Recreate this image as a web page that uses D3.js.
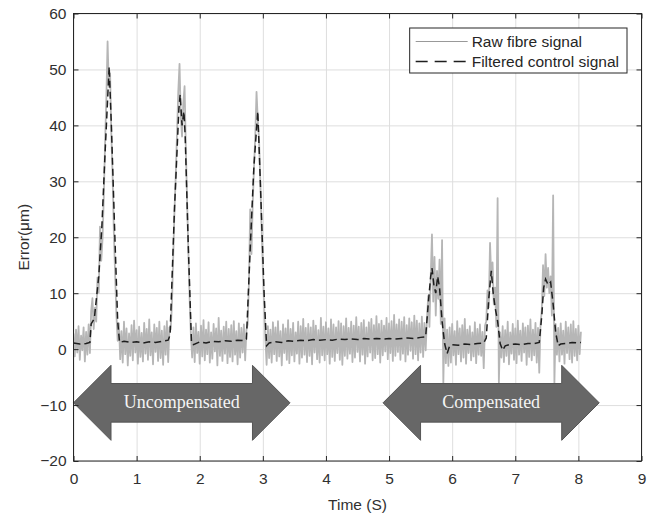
<!DOCTYPE html>
<html>
<head>
<meta charset="utf-8">
<script src="https://cdn.jsdelivr.net/npm/d3@7"></script>
<style>
  body { margin: 0; background: #fff; }
  text { font-family: "Liberation Sans", Arial, sans-serif; }
</style>
</head>
<body>
<svg id="chart" width="658" height="517"></svg>
<script>
// Raw fibre signal, sampled every 0.02 s from t = 0
const rawStep = 0.02;
const rawSignal = [
  // 0.00 - 0.26 s
  2.8, -1.3, 3.5, -0.6, 4.1, -1.9, 2.4, -0.2, 3.9, -2.2, 3.1, -1.0, 4.4, -0.7,
  // first uncompensated excursion, 0.28 - 0.70 s
  6.8, 9.1, 3.6, 7.4, 4.9, 12.8, 10.1, 21.9, 15.8, 19.7, 27.2, 36.8, 44.6, 55.0, 46.9, 49.3,
  38.2, 30.8, 20.6, 13.2, 6.1, 1.5,
  // 0.72 - 1.52 s
  4.6, -1.8, 3.2, -2.4, 4.9, -0.9, 3.7, -2.9, 2.8, -1.2, 4.3, -2.0, 5.1, -0.6, 3.4, -2.6,
  4.0, -1.4, 2.9, -2.2, 4.7, -0.8, 3.6, -1.9, 5.3, -1.1, 3.0, -2.7, 4.4, -0.5, 3.8, -2.1,
  4.9, -1.6, 3.3, -2.8, 4.1, -1.0, 5.0, -2.3, 3.9,
  // second excursion, 1.54 - 1.86 s
  3.5, 8.0, 16.5, 24.8, 31.0, 38.5, 46.0, 51.0, 41.5, 38.0, 44.0, 47.0, 36.0, 26.5, 17.5, 9.0, 2.5,
  // 1.88 - 2.74 s
  -1.5, 3.9, -2.3, 4.6, -0.7, 3.1, -2.6, 4.2, -1.3, 5.2, -2.0, 3.5, -0.9, 4.8, -2.4, 3.0,
  -1.7, 4.5, -0.4, 3.7, -2.9, 5.6, -1.2, 3.3, -2.1, 4.0, -0.8, 4.9, -2.5, 3.6, -1.4, 4.3,
  -2.2, 5.0, -1.0, 3.2, -2.7, 4.6, -1.5, 3.8, -0.6, 4.4, -2.0, 3.4,
  // third excursion, 2.76 - 3.04 s
  4.5, 12.0, 25.0, 17.0, 26.0, 32.5, 38.0, 46.0, 41.0, 37.5, 30.0, 22.0, 14.5, 8.0, 2.0,
  // 3.06 - 5.60 s
  -2.8, 4.1, -1.6, 3.5, -2.4, 4.8, -0.9, 3.9, -2.1, 5.0, -1.3, 3.2, -2.9, 4.4, -0.7, 3.7,
  -1.9, 5.2, -2.5, 3.6, -1.1, 4.7, -2.2, 3.0, -0.8, 4.9, -2.6, 4.1, -1.5, 5.4, -1.0, 3.8,
  -2.3, 4.5, -1.2, 3.9, -2.7, 5.1, -0.6, 4.2, -1.8, 3.4, -2.4, 5.6, -1.1, 4.0, -2.0, 4.8,
  -0.9, 3.7, -2.6, 5.3, -1.4, 4.4, -2.1, 3.9, -0.7, 5.0, -1.9, 4.6, -2.8, 4.1, -1.2, 5.5,
  -1.7, 3.8, -0.8, 4.9, -2.3, 4.2, -1.5, 5.7, -0.5, 4.0, -2.2, 4.7, -1.0, 5.2, -2.6, 3.9,
  -1.3, 4.8, -0.6, 5.4, -2.0, 4.3, -1.6, 5.9, -0.9, 4.5, -2.4, 5.1, -1.1, 4.2, -0.4, 5.6,
  -1.8, 4.6, -0.7, 5.0, -2.1, 6.1, -1.2, 4.4, -0.5, 5.3, -1.9, 4.9, -0.8, 5.7, -2.2, 4.3,
  -1.0, 5.5, -0.3, 4.8, -1.7, 6.0, -0.9, 5.1, -2.0, 4.6, -0.6, 5.8, -1.4, 4.7, -0.2, 5.2,
  // first compensated excursion, 5.62 - 5.94 s
  9.5, 4.0, 13.0, 20.5, 8.5, 16.5, 6.0, 14.0, 9.0, 16.0, 4.5, 19.5, -6.0, 5.5, -2.5, 3.5, -3.0,
  // 5.96 - 6.52 s
  3.9, -2.4, 4.5, -1.1, 3.2, -2.8, 5.0, -0.9, 3.7, -2.2, 4.3, -1.5, 5.4, -2.6, 3.5, -0.7,
  4.1, -2.0, 3.0, -1.3, 4.8, -2.5, 3.6, -1.0, 4.4, -1.2, 3.1, -3.4, 4.2,
  // second compensated excursion, 6.54 - 6.78 s
  5.0, 10.5, 7.5, 19.0, 12.5, 15.5, 8.0, 11.0, 4.0, 27.0, -6.0, 3.0, -1.5,
  // 6.80 - 7.40 s
  4.1, -2.3, 3.4, -1.2, 4.9, -2.7, 3.0, -0.8, 4.5, -1.9, 3.7, -2.5, 5.1, -1.0, 3.3, -2.1,
  4.6, -0.6, 3.9, -2.8, 4.2, -1.4, 5.3, -2.0, 3.5, -1.1, 4.7, -2.4, 3.8, -4.2, 4.4,
  // third compensated excursion, 7.42 - 7.66 s
  7.0, 15.0, 9.5, 17.0, 11.0, 14.5, 10.0, 13.0, 6.0, 27.5, -6.0, 4.5, -1.0,
  // 7.68 - 8.04 s
  3.8, -2.2, 4.6, -1.0, 3.3, -2.6, 4.9, -0.7, 3.9, -1.8, 4.4, -2.4, 5.0, -1.2, 3.6, -2.0,
  4.2, -0.9, 3.1
];

// Filtered control signal
const filteredTime = [
  0.00, 0.10, 0.20, 0.26, 0.28, 0.33, 0.40, 0.45, 0.50, 0.565, 0.60, 0.65, 0.70, 0.73,
  0.80, 0.90, 1.00, 1.10, 1.20, 1.30, 1.40, 1.50, 1.53, 1.60, 1.67, 1.69, 1.72, 1.75,
  1.77, 1.82, 1.87, 1.90, 2.00, 2.10, 2.20, 2.30, 2.40, 2.50, 2.60, 2.70, 2.74, 2.80,
  2.86, 2.92, 2.96, 3.02, 3.06, 3.10, 3.20, 3.30, 3.40, 3.50, 3.60, 3.70, 3.80, 3.90,
  4.00, 4.10, 4.20, 4.30, 4.40, 4.50, 4.60, 4.70, 4.80, 4.90, 5.00, 5.10, 5.20, 5.30,
  5.40, 5.50, 5.58, 5.62, 5.66, 5.68, 5.71, 5.74, 5.77, 5.80, 5.84, 5.88, 5.92, 5.96,
  6.00, 6.10, 6.20, 6.30, 6.40, 6.50, 6.54, 6.58, 6.62, 6.65, 6.68, 6.72, 6.76, 6.80,
  6.84, 6.90, 7.00, 7.10, 7.20, 7.30, 7.38, 7.42, 7.45, 7.48, 7.52, 7.56, 7.60, 7.64,
  7.68, 7.72, 7.80, 7.90, 8.00, 8.04
];
const filteredValue = [
  1.1, 0.9, 1.0, 1.2, 4.5, 5.5, 13.0, 22.0, 35.0, 50.5, 40.0, 22.0, 5.0, 1.2,
  1.4, 1.2, 1.3, 1.1, 1.3, 1.2, 1.4, 1.6, 2.5, 25.0, 43.0, 45.5, 40.0, 42.5,
  38.0, 18.0, 1.0, 0.8, 1.3, 1.1, 1.4, 1.3, 1.5, 1.4, 1.6, 1.5, 1.8, 18.0,
  33.0, 42.5, 30.0, 10.0, 0.6, 1.1, 1.3, 1.2, 1.5, 1.4, 1.6, 1.5, 1.7, 1.6,
  1.7, 1.6, 1.8, 1.7, 1.8, 1.7, 1.9, 1.8, 1.9, 1.8, 1.9, 1.8, 1.9, 2.0,
  1.9, 2.1, 2.2, 8.0, 13.0, 14.5, 11.5, 10.0, 13.0, 11.0, 5.0, 1.0, -0.8, 0.6,
  0.8, 0.7, 0.9, 0.8, 1.0, 1.1, 2.0, 9.0, 14.0, 10.0, 7.5, 5.0, 1.0, -0.2,
  0.6, 0.8, 0.9, 0.8, 1.0, 1.0, 1.2, 6.0, 11.0, 12.5, 11.5, 12.0, 8.0, 3.0,
  0.6, 0.9, 1.0, 1.2, 1.1, 1.2
];

const xTicks = [0, 1, 2, 3, 4, 5, 6, 7, 8, 9];
const yTicks = [-20, -10, 0, 10, 20, 30, 40, 50, 60];

// Annotation arrows: label, start and end time, level
const arrowLabels = ["Uncompensated", "Compensated"];
const arrowStart = [0, 4.905];
const arrowEnd = [3.43, 8.33];
const arrowLevel = -9.6;

const legendLabels = ["Raw fibre signal", "Filtered control signal"];

// ---- layout ----
const svg = d3.select("#chart");
const plotLeft = 73.5, plotRight = 641.5, plotTop = 13.5, plotBottom = 461;
const x = d3.scaleLinear().domain([0, 9]).range([plotLeft, plotRight]);
const y = d3.scaleLinear().domain([-20, 60]).range([plotBottom, plotTop]);
const axisColor = "#262626";
const fontSize = 15.5;

// grid
const grid = svg.append("g");
grid.append("g")
  .attr("transform", `translate(0,${plotBottom})`)
  .call(d3.axisBottom(x).tickValues(xTicks).tickSize(-(plotBottom - plotTop)).tickFormat(""))
  .call(g => g.select(".domain").remove())
  .call(g => g.selectAll("line").attr("stroke", "#dedede").attr("stroke-width", 1));
grid.append("g")
  .attr("transform", `translate(${plotLeft},0)`)
  .call(d3.axisLeft(y).tickValues(yTicks).tickSize(-(plotRight - plotLeft)).tickFormat(""))
  .call(g => g.select(".domain").remove())
  .call(g => g.selectAll("line").attr("stroke", "#dedede").attr("stroke-width", 1));

// data
svg.append("clipPath").attr("id", "plotClip")
  .append("rect").attr("x", plotLeft).attr("y", plotTop)
  .attr("width", plotRight - plotLeft).attr("height", plotBottom - plotTop);

const rawPoints = rawSignal.map((v, i) => [i * rawStep, v]);
const line = d3.line().x(d => x(d[0])).y(d => y(d[1]));

svg.append("path")
  .datum(rawPoints)
  .attr("clip-path", "url(#plotClip)")
  .attr("d", line)
  .attr("fill", "none")
  .attr("stroke", "#b6b6b6")
  .attr("stroke-width", 1.8)
  .attr("stroke-linejoin", "round");

const filtPoints = filteredTime.map((t, i) => [t, filteredValue[i]]);
svg.append("path")
  .datum(filtPoints)
  .attr("clip-path", "url(#plotClip)")
  .attr("d", line)
  .attr("fill", "none")
  .attr("stroke", "#1e1e1e")
  .attr("stroke-width", 1.5)
  .attr("stroke-dasharray", "7,4");

// annotation arrows
const headLen = 37.5, headHalf = 37.5, bodyHalf = 19.3;
arrowLabels.forEach((label, i) => {
  const x0 = x(arrowStart[i]), x1 = x(arrowEnd[i]), yc = y(arrowLevel);
  const pts = [
    [x0, yc], [x0 + headLen, yc - headHalf], [x0 + headLen, yc - bodyHalf],
    [x1 - headLen, yc - bodyHalf], [x1 - headLen, yc - headHalf], [x1, yc],
    [x1 - headLen, yc + headHalf], [x1 - headLen, yc + bodyHalf],
    [x0 + headLen, yc + bodyHalf], [x0 + headLen, yc + headHalf]
  ];
  svg.append("path")
    .attr("d", "M" + pts.map(p => p.join(",")).join("L") + "Z")
    .attr("fill", "#676767")
    .attr("stroke", "#555")
    .attr("stroke-width", 1);
  svg.append("text")
    .attr("x", (x0 + x1) / 2)
    .attr("y", yc + 5)
    .attr("text-anchor", "middle")
    .style("font-family", '"Liberation Serif", "Times New Roman", serif')
    .style("font-size", "18px")
    .attr("fill", "#f4f4f4")
    .text(label);
});

// axes: ticks point inward on all four sides
const styleAxis = g => {
  g.select(".domain").remove();
  g.selectAll("line").attr("stroke", axisColor);
  g.selectAll("text").attr("fill", "#303030")
    .style("font-size", fontSize + "px")
    .style("font-family", '"Liberation Sans", Arial, sans-serif');
};
svg.append("g").attr("transform", `translate(0,${plotBottom})`)
  .call(d3.axisBottom(x).tickValues(xTicks).tickSize(-5).tickPadding(12).tickFormat(d3.format("d")))
  .call(styleAxis);
svg.append("g").attr("transform", `translate(0,${plotTop})`)
  .call(d3.axisTop(x).tickValues(xTicks).tickSize(-5).tickFormat(""))
  .call(styleAxis);
svg.append("g").attr("transform", `translate(${plotLeft},0)`)
  .call(d3.axisLeft(y).tickValues(yTicks).tickSize(-5).tickPadding(7).tickFormat(d3.format("d")))
  .call(styleAxis);
svg.append("g").attr("transform", `translate(${plotRight},0)`)
  .call(d3.axisRight(y).tickValues(yTicks).tickSize(-5).tickFormat(""))
  .call(styleAxis);

svg.append("rect")
  .attr("x", plotLeft).attr("y", plotTop)
  .attr("width", plotRight - plotLeft).attr("height", plotBottom - plotTop)
  .attr("fill", "none").attr("stroke", axisColor).attr("stroke-width", 1);

// axis titles
svg.append("text")
  .attr("x", (plotLeft + plotRight) / 2).attr("y", 510)
  .attr("text-anchor", "middle")
  .attr("fill", "#303030")
  .style("font-size", fontSize + "px")
  .text("Time (S)");
svg.append("text")
  .attr("transform", `translate(29,${(plotTop + plotBottom) / 2}) rotate(-90)`)
  .attr("text-anchor", "middle")
  .attr("fill", "#303030")
  .style("font-size", fontSize + "px")
  .text("Error(μm)");

// legend
const legend = svg.append("g");
const legendBox = legend.append("rect")
  .attr("fill", "#fff").attr("stroke", axisColor).attr("stroke-width", 1);
const sampleLen = 52, rowGap = 20, padL = 6, padR = 8;
const legendStyles = [
  { stroke: "#999", width: 1, dash: null },
  { stroke: "#1e1e1e", width: 1.6, dash: "12,7" }
];
const texts = legendLabels.map((label, i) => legend.append("text")
  .attr("fill", "#262626")
  .style("font-size", fontSize + "px")
  .text(label));
const textW = d3.max(texts, t => t.node().getComputedTextLength());
const boxW = padL + sampleLen + 4 + textW + padR;
const boxRight = plotRight - 14.5, boxTop = plotTop + 14.5;
const boxLeft = boxRight - boxW;
legendBox.attr("x", boxLeft).attr("y", boxTop).attr("width", boxW).attr("height", 45);
legendLabels.forEach((label, i) => {
  const yy = boxTop + 13.5 + i * rowGap;
  legend.append("line")
    .attr("x1", boxLeft + padL).attr("x2", boxLeft + padL + sampleLen)
    .attr("y1", yy).attr("y2", yy)
    .attr("stroke", legendStyles[i].stroke)
    .attr("stroke-width", legendStyles[i].width)
    .attr("stroke-dasharray", legendStyles[i].dash);
  texts[i].attr("x", boxLeft + padL + sampleLen + 4).attr("y", yy + 5.5);
});
</script>
</body>
</html>
